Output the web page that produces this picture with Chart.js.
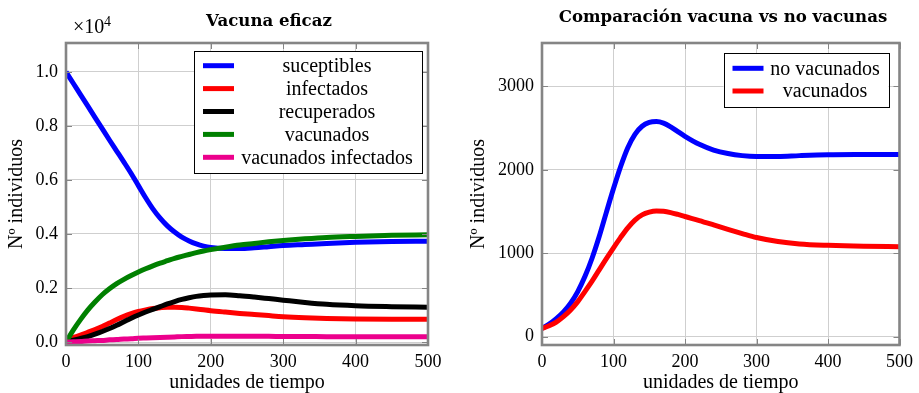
<!DOCTYPE html>
<html><head><meta charset="utf-8">
<script src="https://cdn.jsdelivr.net/npm/chart.js@4.4.0/dist/chart.umd.min.js"></script>
<style>
html,body{margin:0;padding:0;background:#fff;width:919px;height:393px;overflow:hidden}
#c1{position:absolute;left:0;top:0}
#c2{position:absolute;left:460px;top:0}
</style></head><body>
<canvas id="c1" width="460" height="393"></canvas>
<canvas id="c2" width="459" height="393"></canvas>
<script>
// ---------- data ----------
const tiempo = [0,10,20,30,40,50,60,70,80,90,100,110,120,130,140,150,160,170,180,190,200,220,240,260,280,300,330,360,400,450,500];

// left chart: "Vacuna eficaz"
const suceptibles = [10000,9580,9160,8740,8320,7900,7480,7070,6660,6240,5790,5340,4930,4585,4300,4070,3880,3740,3630,3550,3500,3465,3465,3490,3530,3570,3610,3650,3690,3720,3730];
const infectados = [100,170,260,360,460,570,700,830,950,1050,1130,1190,1240,1270,1290,1290,1280,1255,1225,1192,1160,1108,1060,1018,978,940,900,872,852,842,840];
const recuperados = [50,70,130,200,290,390,500,620,750,880,1000,1110,1210,1310,1410,1500,1580,1640,1690,1720,1740,1750,1715,1665,1608,1550,1465,1395,1342,1310,1290];
const vacunados = [0,440,830,1180,1480,1750,1970,2160,2320,2460,2590,2710,2820,2920,3010,3100,3170,3240,3310,3370,3420,3510,3590,3650,3710,3760,3820,3870,3910,3950,3970];
const vacunadosInfectados = [0,10,20,40,50,60,80,90,110,120,140,150,160,170,180,190,200,205,210,210,210,210,210,210,210,205,205,200,200,200,200];

// right chart: "Comparación vacuna vs no vacunas"
const noVacunadosSerie = [100,150,215,295,400,540,720,940,1200,1490,1775,2040,2265,2425,2522,2568,2578,2560,2515,2458,2402,2305,2237,2195,2170,2160,2160,2170,2180,2183,2184];
const vacunadosSerie = [100,130,175,240,320,420,540,665,800,935,1065,1190,1305,1398,1460,1492,1505,1502,1487,1465,1440,1392,1340,1287,1236,1188,1140,1112,1095,1083,1078];

const xTicks = [0,100,200,300,400,500];
const xTickLabels = ['0','100','200','300','400','500'];
const yTicksLeft = [0,2000,4000,6000,8000,10000];
const yTickLabelsLeft = ['0.0','0.2','0.4','0.6','0.8','1.0'];
const yTicksRight = [0,1000,2000,3000];
const yTickLabelsRight = ['0','1000','2000','3000'];

const labelsLeft = ['suceptibles','infectados','recuperados','vacunados','vacunados infectados'];
const labelsRight = ['no vacunados','vacunados'];

// ---------- styling ----------
const FAM = "'Liberation Serif', 'Times New Roman', serif";
const TFAM = "'DejaVu Serif', serif";
const GRID = '#cfcfcf';
const FRAME = '#858585';
const LW = 5;
Chart.defaults.font.family = FAM;
Chart.defaults.color = '#000';

function pts(arr){ return tiempo.map((t,i)=>({x:t,y:arr[i]})); }

function ds(label, arr, color, order){
  return {label, data: pts(arr), borderColor: color, backgroundColor: color,
    borderWidth: LW, pointRadius: 0, pointHoverRadius: 0, fill: false,
    cubicInterpolationMode: 'monotone', borderCapStyle: 'butt', borderJoinStyle: 'round', order};
}

function decorPlugin(opts){
  return {
    id: 'decor',
    afterDatasetsDraw(chart){
      const {ctx, chartArea: a} = chart;
      ctx.save();
      ctx.strokeStyle = FRAME; ctx.lineWidth = 1;
      const xs = chart.scales.x, ys = chart.scales.y;
      ctx.beginPath();
      xs.ticks.forEach(t => { const p = Math.round(xs.getPixelForValue(t.value)) + 0.5;
        ctx.moveTo(p, a.bottom); ctx.lineTo(p, a.bottom - 6);
        ctx.moveTo(p, a.top); ctx.lineTo(p, a.top + 6); });
      ys.ticks.forEach(t => { const p = Math.round(ys.getPixelForValue(t.value)) + 0.5;
        ctx.moveTo(a.left, p); ctx.lineTo(a.left + 6, p);
        ctx.moveTo(a.right, p); ctx.lineTo(a.right - 6, p); });
      ctx.stroke();
      ctx.strokeStyle = FRAME; ctx.lineWidth = 2.6;
      ctx.strokeRect(a.left, a.top, a.right - a.left, a.bottom - a.top);
      const L = opts.legend;
      const bx = a.right - L.right - L.w, by = a.top + L.top;
      ctx.fillStyle = '#fff';
      ctx.fillRect(bx, by, L.w, L.h);
      ctx.strokeStyle = '#000'; ctx.lineWidth = 1;
      ctx.strokeRect(Math.round(bx)+0.5, Math.round(by)+0.5, L.w, L.h);
      ctx.font = '20px ' + FAM;
      ctx.textAlign = 'center'; ctx.textBaseline = 'middle';
      chart.data.datasets.forEach((d, i) => {
        const y = by + L.first + i * L.step;
        ctx.strokeStyle = d.borderColor; ctx.lineWidth = LW; ctx.lineCap = 'butt';
        ctx.beginPath(); ctx.moveTo(bx + 9, y); ctx.lineTo(bx + 40, y); ctx.stroke();
        ctx.fillStyle = '#000';
        ctx.fillText(d.label, bx + L.textX, y + 1);
      });
      ctx.restore();
    },
    afterDraw(chart){
      const {ctx} = chart;
      ctx.save();
      ctx.fillStyle = '#000';
      ctx.font = 'bold 16.6px ' + TFAM;
      ctx.textAlign = 'center'; ctx.textBaseline = 'alphabetic';
      ctx.fillText(opts.title, opts.titleX, opts.titleY);
      if (opts.exponent){
        ctx.textAlign = 'left';
        ctx.font = '20px ' + FAM;
        ctx.fillText('\u00d710', 73, 33);
        ctx.font = '14px ' + FAM;
        ctx.fillText('4', 104, 26);
      }
      ctx.restore();
    }
  };
}

function makeOptions(cfg){
  return {
    responsive: false, animation: false, devicePixelRatio: 1,
    layout: {padding: {left: 0, right: cfg.padRight, top: 43, bottom: 0}},
    plugins: {legend: {display: false}, tooltip: {enabled: false}, title: {display: false}},
    scales: {
      x: {type: 'linear', min: 0, max: 500,
        afterBuildTicks: s => { s.ticks = xTicks.map(v => ({value: v})); },
        afterFit: s => { s.height = 48; },
        grid: {color: GRID, lineWidth: 1, drawTicks: false},
        border: {display: false},
        ticks: {autoSkip: false, maxRotation: 0, padding: 6, font: {size: 18, family: FAM}, color: '#000',
          callback: (v, i) => xTickLabels[i]},
        title: {display: true, text: 'unidades de tiempo', color: '#000',
          font: {size: 20, family: FAM, lineHeight: 1}, padding: {top: 0, bottom: 0}}
      },
      y: {type: 'linear', min: cfg.ymin, max: cfg.ymax,
        afterBuildTicks: s => { s.ticks = cfg.yTicks.map(v => ({value: v})); },
        afterFit: s => { s.width = cfg.yWidth; },
        grid: {color: GRID, lineWidth: 1, drawTicks: false},
        border: {display: false},
        ticks: {autoSkip: false, padding: 8, font: {size: 18, family: FAM}, color: '#000',
          callback: (v, i) => cfg.yLabels[i]},
        title: {display: true, text: 'N\u00ba individuos', color: '#000',
          font: {size: 20, family: FAM, lineHeight: 1}, padding: {top: cfg.yTitlePad, bottom: 0}}
      }
    }
  };
}

const colorsLeft = ['#0000ff', '#ff0000', '#000000', '#008000', '#ec008c'];
const seriesLeft = [suceptibles, infectados, recuperados, vacunados, vacunadosInfectados];
new Chart(document.getElementById('c1'), {
  type: 'line',
  data: {datasets: seriesLeft.map((s, i) => ds(labelsLeft[i], s, colorsLeft[i], seriesLeft.length - i))},
  options: makeOptions({padRight: 32, ymin: -110, ymax: 11070, yTicks: yTicksLeft, yLabels: yTickLabelsLeft, yWidth: 66, yTitlePad: 7}),
  plugins: [decorPlugin({title: 'Vacuna eficaz', titleX: 269, titleY: 26, exponent: true,
    legend: {w: 228, h: 122, right: 6, top: 8, first: 14.7, step: 22.9, textX: 133}})]
});

const colorsRight = ['#0000ff', '#ff0000'];
const seriesRight = [noVacunadosSerie, vacunadosSerie];
new Chart(document.getElementById('c2'), {
  type: 'line',
  data: {datasets: seriesRight.map((s, i) => ds(labelsRight[i], s, colorsRight[i], seriesRight.length - i))},
  options: makeOptions({padRight: 15, ymin: -100, ymax: 3520, yTicks: yTicksRight, yLabels: yTickLabelsRight, yWidth: 82, yTitlePad: 9}),
  plugins: [decorPlugin({title: 'Comparaci\u00f3n vacuna vs no vacunas', titleX: 263, titleY: 22, exponent: false,
    legend: {w: 165, h: 54, right: 11, top: 10, first: 15.3, step: 22.7, textX: 101.5}})]
});
</script>
</body></html>
